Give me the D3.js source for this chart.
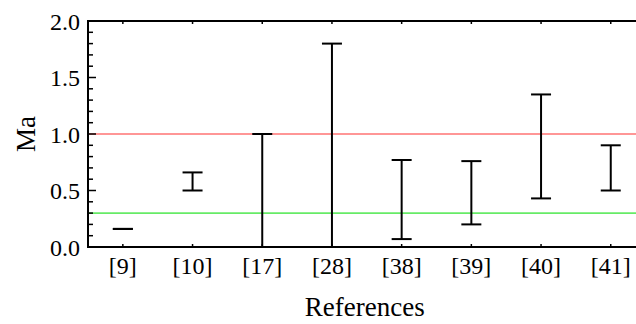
<!DOCTYPE html>
<html>
<head>
<meta charset="utf-8">
<script src="https://cdn.jsdelivr.net/npm/d3@7"></script>
<style>
  body { margin: 0; background: #fff; }
</style>
</head>
<body>
<div id="chart"></div>
<script>
const references = ["[9]", "[10]", "[17]", "[28]", "[38]", "[39]", "[40]", "[41]"];
const ma_low  = [0.16, 0.50, 0.00, 0.00, 0.07, 0.20, 0.43, 0.50];
const ma_high = [0.16, 0.66, 1.00, 1.80, 0.77, 0.76, 1.35, 0.90];
const y_ticks = [0.0, 0.5, 1.0, 1.5, 2.0];
const y_minor = d3.range(0, 21).map(i => i / 10);
const red_level = 1.0;
const green_level = 0.3;

const FONT = "'Liberation Serif', 'Times New Roman', Times, serif";
const W = 636, H = 324;
const margin = { top: 21, left: 88, bottom: 77 };
const height = H - margin.top - margin.bottom;

const svg = d3.select("#chart")
    .append("svg")
    .attr("width", W)
    .attr("height", H);

const x = d3.scaleBand()
    .domain(references)
    .range([margin.left, margin.left + 8 * 69.7])
    .padding(0);

const y = d3.scaleLinear()
    .domain([0, 2])
    .range([margin.top + height, margin.top]);

const data = references.map((r, i) => ({ ref: r, low: ma_low[i], high: ma_high[i] }));

// reference levels
svg.append("line")
    .attr("x1", margin.left).attr("x2", W)
    .attr("y1", y(red_level)).attr("y2", y(red_level))
    .style("stroke", "#ff0000").style("stroke-opacity", 0.55).style("stroke-width", 1.6);
svg.append("line")
    .attr("x1", margin.left).attr("x2", W)
    .attr("y1", y(green_level)).attr("y2", y(green_level))
    .style("stroke", "#00dd00").style("stroke-opacity", 0.6).style("stroke-width", 1.6);

// error bars
const cx = d => x(d.ref) + x.bandwidth() / 2;
const bars = svg.append("g").style("stroke", "#000").style("stroke-width", 2);
bars.selectAll(".stem")
    .data(data)
    .join("line")
    .attr("x1", cx).attr("x2", cx)
    .attr("y1", d => y(d.low)).attr("y2", d => y(d.high));
bars.selectAll(".cap-hi")
    .data(data)
    .join("line")
    .attr("x1", d => cx(d) - 10).attr("x2", d => cx(d) + 10)
    .attr("y1", d => y(d.high)).attr("y2", d => y(d.high));
bars.selectAll(".cap-lo")
    .data(data)
    .join("line")
    .attr("x1", d => cx(d) - 10).attr("x2", d => cx(d) + 10)
    .attr("y1", d => y(d.low)).attr("y2", d => y(d.low));

// axes
const yAxis = svg.append("g")
    .attr("transform", `translate(${margin.left}, 0)`)
    .call(d3.axisLeft(y).tickValues(y_ticks).tickFormat(d3.format(".1f")).tickSize(0).tickPadding(8));
yAxis.select(".domain").remove();
yAxis.attr("font-family", FONT).attr("font-size", 24);
yAxis.selectAll("text").style("font-family", FONT).style("font-size", "24px").attr("dy", "0.34em");

svg.append("g")
    .selectAll("line")
    .data(y_minor)
    .join("line")
    .attr("x1", margin.left)
    .attr("x2", d => margin.left + (Math.round(d * 10) % 5 === 0 ? 8 : 5))
    .attr("y1", d => y(d)).attr("y2", d => y(d))
    .style("stroke", "#000").style("stroke-width", 1.5);

const xAxis = svg.append("g")
    .attr("transform", `translate(0, ${margin.top + height})`)
    .call(d3.axisBottom(x).tickSize(0).tickPadding(10));
xAxis.select(".domain").remove();
xAxis.attr("font-family", FONT).attr("font-size", 24);
xAxis.selectAll("text").style("font-family", FONT).style("font-size", "24px");

// small category ticks on bottom and top
svg.append("g")
    .selectAll("line")
    .data(references)
    .join("line")
    .attr("x1", d => x(d) + x.bandwidth() / 2).attr("x2", d => x(d) + x.bandwidth() / 2)
    .attr("y1", y(0)).attr("y2", y(0) - 3)
    .style("stroke", "#000").style("stroke-width", 1.5);
svg.append("g")
    .selectAll("line")
    .data(references)
    .join("line")
    .attr("x1", d => x(d) + x.bandwidth() / 2).attr("x2", d => x(d) + x.bandwidth() / 2)
    .attr("y1", y(2)).attr("y2", y(2) + 3)
    .style("stroke", "#000").style("stroke-width", 1.5);

// frame
const frame = svg.append("g").style("stroke", "#000").style("stroke-width", 2);
frame.append("line").attr("x1", margin.left).attr("x2", margin.left).attr("y1", y(2) - 1).attr("y2", y(0) + 1);
frame.append("line").attr("x1", margin.left).attr("x2", W).attr("y1", y(0)).attr("y2", y(0));
frame.append("line").attr("x1", margin.left).attr("x2", W).attr("y1", y(2)).attr("y2", y(2));

// titles
svg.append("text")
    .attr("x", (margin.left + x.range()[1]) / 2 - 2)
    .attr("y", 316)
    .attr("text-anchor", "middle")
    .style("font-family", FONT)
    .style("font-size", "27px")
    .text("References");
svg.append("text")
    .attr("transform", `translate(35, ${(y(0) + y(2)) / 2}) rotate(-90)`)
    .attr("text-anchor", "middle")
    .style("font-family", FONT)
    .style("font-size", "27px")
    .text("Ma");
</script>
</body>
</html>
